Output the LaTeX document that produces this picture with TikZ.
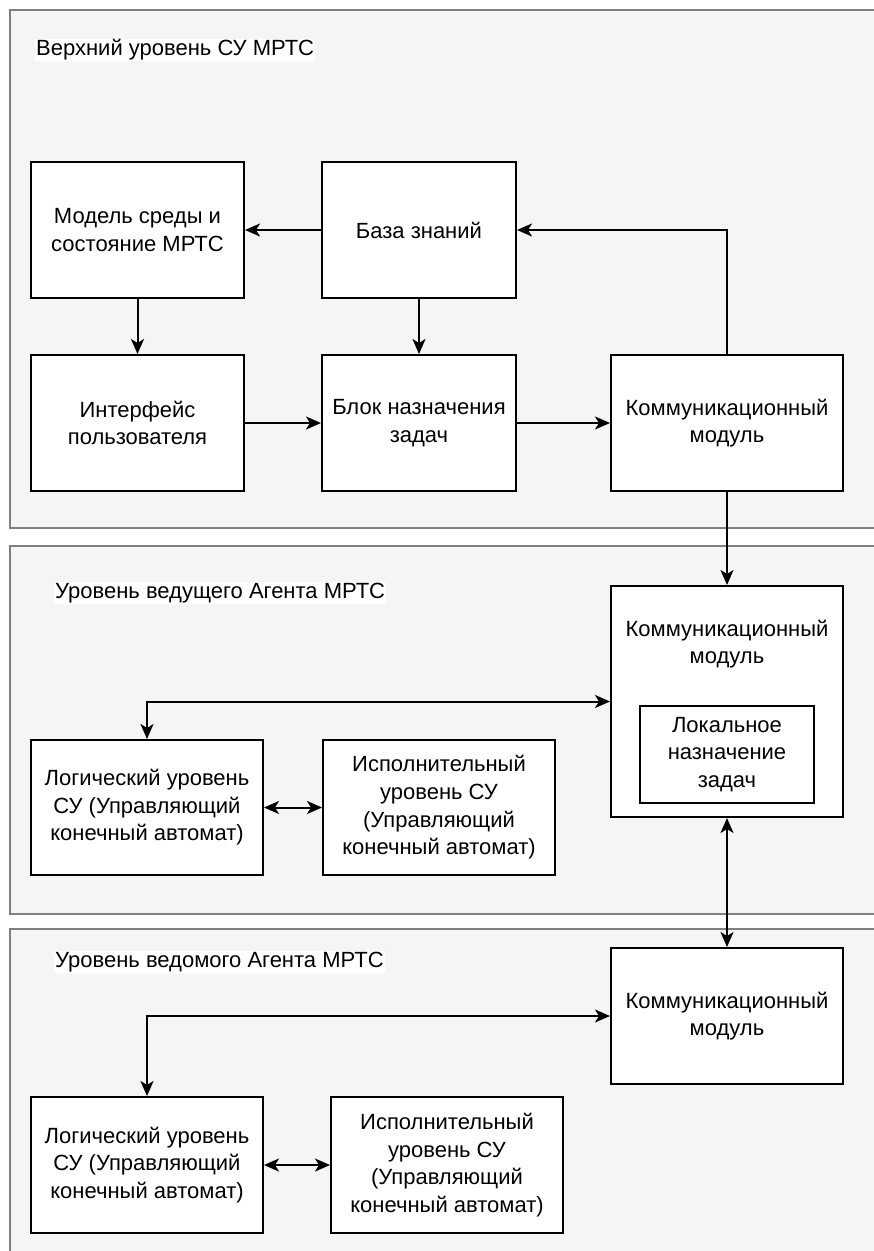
\documentclass[tikz,border=0pt]{standalone}
\usepackage{fontspec}
\setmainfont{Liberation Sans}
\usetikzlibrary{arrows.meta}
\definecolor{panelfill}{HTML}{F5F5F5}
\definecolor{panelline}{HTML}{808080}
\tikzset{
  panel/.style={draw=panelline, line width=1.8pt, fill=panelfill},
  block/.style={draw=black, line width=2pt, fill=white, align=center,
    inner sep=2pt, font=\fontsize{22}{27.6}\selectfont},
  paneltitle/.style={anchor=west, fill=white, inner sep=1pt,
    font=\fontsize{22}{27.6}\selectfont},
  plain/.style={align=center, fill=white, inner sep=1pt,
    font=\fontsize{22}{27.6}\selectfont},
  tip/.tip={Stealth[length=15pt,width=13pt,inset=4pt]},
  conn/.style={line width=2pt, -tip},
  bconn/.style={line width=2pt, tip-tip}
}
\begin{document}
\begin{tikzpicture}[x=1pt,y=-1pt]
\clip (0,0) rectangle (874,1251);
\fill[white] (0,0) rectangle (874,1251);

% three level panels
\path[panel] (10,10) rectangle (890,528);
\path[panel] (10,546) rectangle (890,914);
\path[panel] (10,929) rectangle (890,1270);

\node[paneltitle] (t1) at (35,50) {Верхний уровень СУ МРТС};
\node[paneltitle] (t2) at (54,593) {Уровень ведущего Агента МРТС};
\node[paneltitle] (t3) at (54,962) {Уровень ведомого Агента МРТС};

% upper level
\node[block, minimum width=213pt, minimum height=136pt] (model) at (137.5,230)
  {Модель среды и\\состояние МРТС};
\node[block, minimum width=194pt, minimum height=136pt] (kb) at (419,230)
  {База знаний};
\node[block, minimum width=213pt, minimum height=136pt] (ui) at (137.5,423)
  {Интерфейс\\пользователя};
\node[block, minimum width=194pt, minimum height=136pt] (assign) at (419,423)
  {Блок назначения\\задач};
\node[block, minimum width=232pt, minimum height=136pt] (comm1) at (727,423)
  {Коммуникационный\\модуль};

% leading agent level
\node[block, minimum width=232pt, minimum height=231pt] (comm2) at (727,701.5) {};
\node[plain] (comm2txt) at (727,644) {Коммуникационный\\модуль};
\node[block, minimum width=174pt, minimum height=97pt] (local) at (727,754.5)
  {Локальное\\назначение\\задач};
\node[block, minimum width=232pt, minimum height=135pt] (logic2) at (147,807.5)
  {Логический уровень\\СУ (Управляющий\\конечный автомат)};
\node[block, minimum width=232pt, minimum height=135pt] (exec2) at (439,807.5)
  {Исполнительный\\уровень СУ\\(Управляющий\\конечный автомат)};

% follower agent level
\node[block, minimum width=232pt, minimum height=136pt] (comm3) at (727,1016)
  {Коммуникационный\\модуль};
\node[block, minimum width=232pt, minimum height=136pt] (logic3) at (147,1165)
  {Логический уровень\\СУ (Управляющий\\конечный автомат)};
\node[block, minimum width=232pt, minimum height=136pt] (exec3) at (447,1165)
  {Исполнительный\\уровень СУ\\(Управляющий\\конечный автомат)};

% connectors
\draw[conn] (kb.west) -- (model.east);
\draw[conn] (comm1.north) |- (kb.east);
\draw[conn] (model.south) -- (ui.north);
\draw[conn] (kb.south) -- (assign.north);
\draw[conn] (ui.east) -- (assign.west);
\draw[conn] (assign.east) -- (comm1.west);
\draw[conn] (comm1.south) -- (comm2.north);
\draw[bconn] (comm2.south) -- (comm3.north);
\draw[bconn] (logic2.north) |- (comm2.west);
\draw[bconn] (logic2.east) -- (exec2.west);
\draw[bconn] (logic3.north) |- (comm3.west);
\draw[bconn] (logic3.east) -- (exec3.west);
\end{tikzpicture}
\end{document}
